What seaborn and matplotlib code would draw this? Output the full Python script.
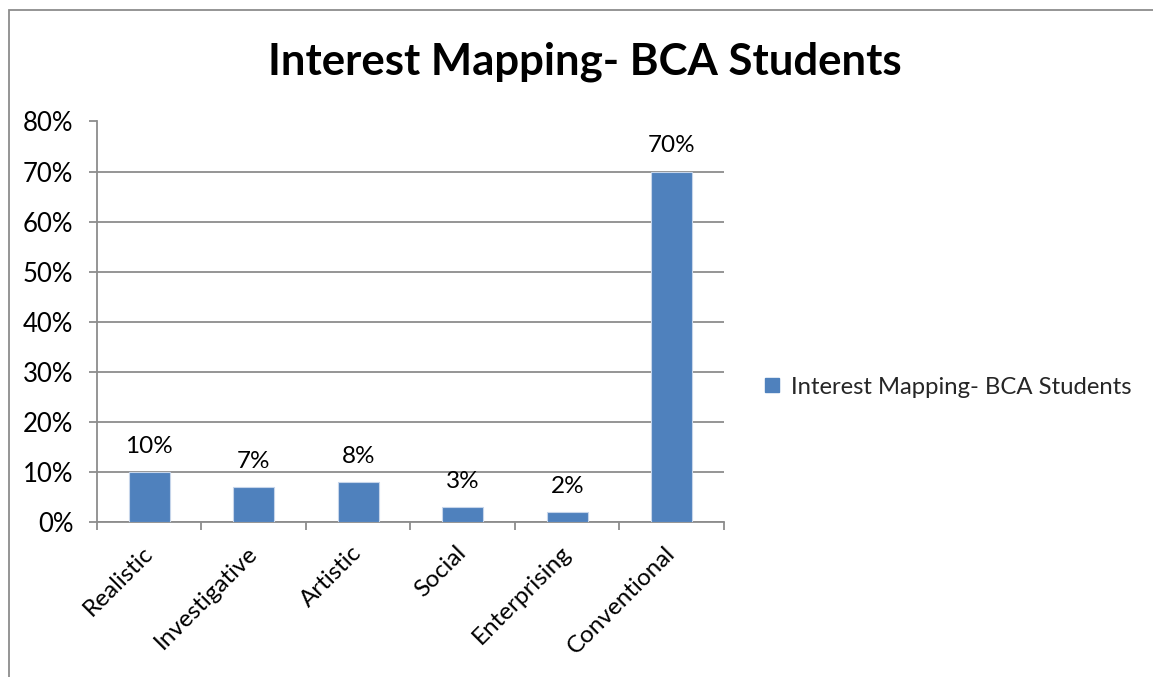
import matplotlib
matplotlib.use("Agg")
import matplotlib.pyplot as plt
from matplotlib.patches import Rectangle
from matplotlib.lines import Line2D
from matplotlib.ticker import FixedLocator, PercentFormatter
import seaborn as sns
import pandas as pd

categories = ["Realistic", "Investigative", "Artistic", "Social", "Enterprising", "Conventional"]
shares = [10, 7, 8, 3, 2, 70]
value_labels = ["10%", "7%", "8%", "3%", "2%", "70%"]
series_name = "Interest Mapping- BCA Students"

df = pd.DataFrame({"Interest": categories, "Share": shares})

sns.set_theme(style="white")
plt.rcParams["font.family"] = ["Lato", "DejaVu Sans"]

BLUE = "#4F81BD"
GRID = "#8C8C8C"
FS = 17.5

fig = plt.figure(figsize=(11.53, 6.77), dpi=100)
ax = fig.add_axes([97 / 1153, 1 - 522 / 677, (724 - 97) / 1153, (522 - 121.5) / 677])

sns.barplot(data=df, x="Interest", y="Share", color=BLUE, width=0.39,
            edgecolor="#C6D5EA", linewidth=0.8, saturation=1, ax=ax, zorder=3)

ax.set_xlim(-0.5, len(categories) - 0.5)
ax.set_ylim(0, 80)
ax.set_yticks(range(0, 81, 10))
ax.yaxis.set_major_formatter(PercentFormatter(decimals=0))
ax.grid(axis="y", color=GRID, linewidth=1.3, zorder=0)
ax.set_axisbelow(True)

for side in ["top", "right"]:
    ax.spines[side].set_visible(False)
for side in ["left", "bottom"]:
    ax.spines[side].set_color(GRID)
    ax.spines[side].set_linewidth(1.3)

ax.tick_params(axis="y", which="major", left=True, length=6, width=1.3, color=GRID,
               labelsize=18.5, labelcolor="black", pad=11)
ax.tick_params(axis="x", which="major", bottom=False, length=0, labelsize=FS,
               labelcolor="black", pad=20)
ax.xaxis.set_minor_locator(FixedLocator([i - 0.5 for i in range(len(categories) + 1)]))
ax.tick_params(axis="x", which="minor", bottom=True, length=6, width=1.3, color=GRID)

for lbl in ax.get_xticklabels():
    lbl.set_rotation(45)
    lbl.set_ha("right")
    lbl.set_rotation_mode("anchor")
    lbl.set_va("center")

ax.set_xlabel("")
ax.set_ylabel("")

for i, (v, txt) in enumerate(zip(shares, value_labels)):
    ax.annotate(txt, (i, v), xytext=(0, 11), textcoords="offset points",
                ha="center", va="bottom", fontsize=FS, color="black")

fig.text(585 / 1153, 1 - 62 / 677, series_name, ha="center", va="center",
         fontsize=31.5, fontweight="bold", color="black")

handle = Line2D([], [], marker="s", linestyle="none", markersize=10,
                markerfacecolor=BLUE, markeredgecolor=BLUE)
fig.legend([handle], [series_name], loc="center left",
           bbox_to_anchor=(750 / 1153, 1 - 387 / 677), frameon=False,
           fontsize=17.2, handletextpad=0.3, handlelength=1.0, borderaxespad=0)

fig.patches.append(Rectangle((9 / 1153, -0.05), 1.2, 1 - 9.5 / 677 + 0.05,
                             transform=fig.transFigure, fill=False,
                             edgecolor="#8C8C8C", linewidth=1.3))

fig.savefig("out.png", dpi=100, facecolor="white")
